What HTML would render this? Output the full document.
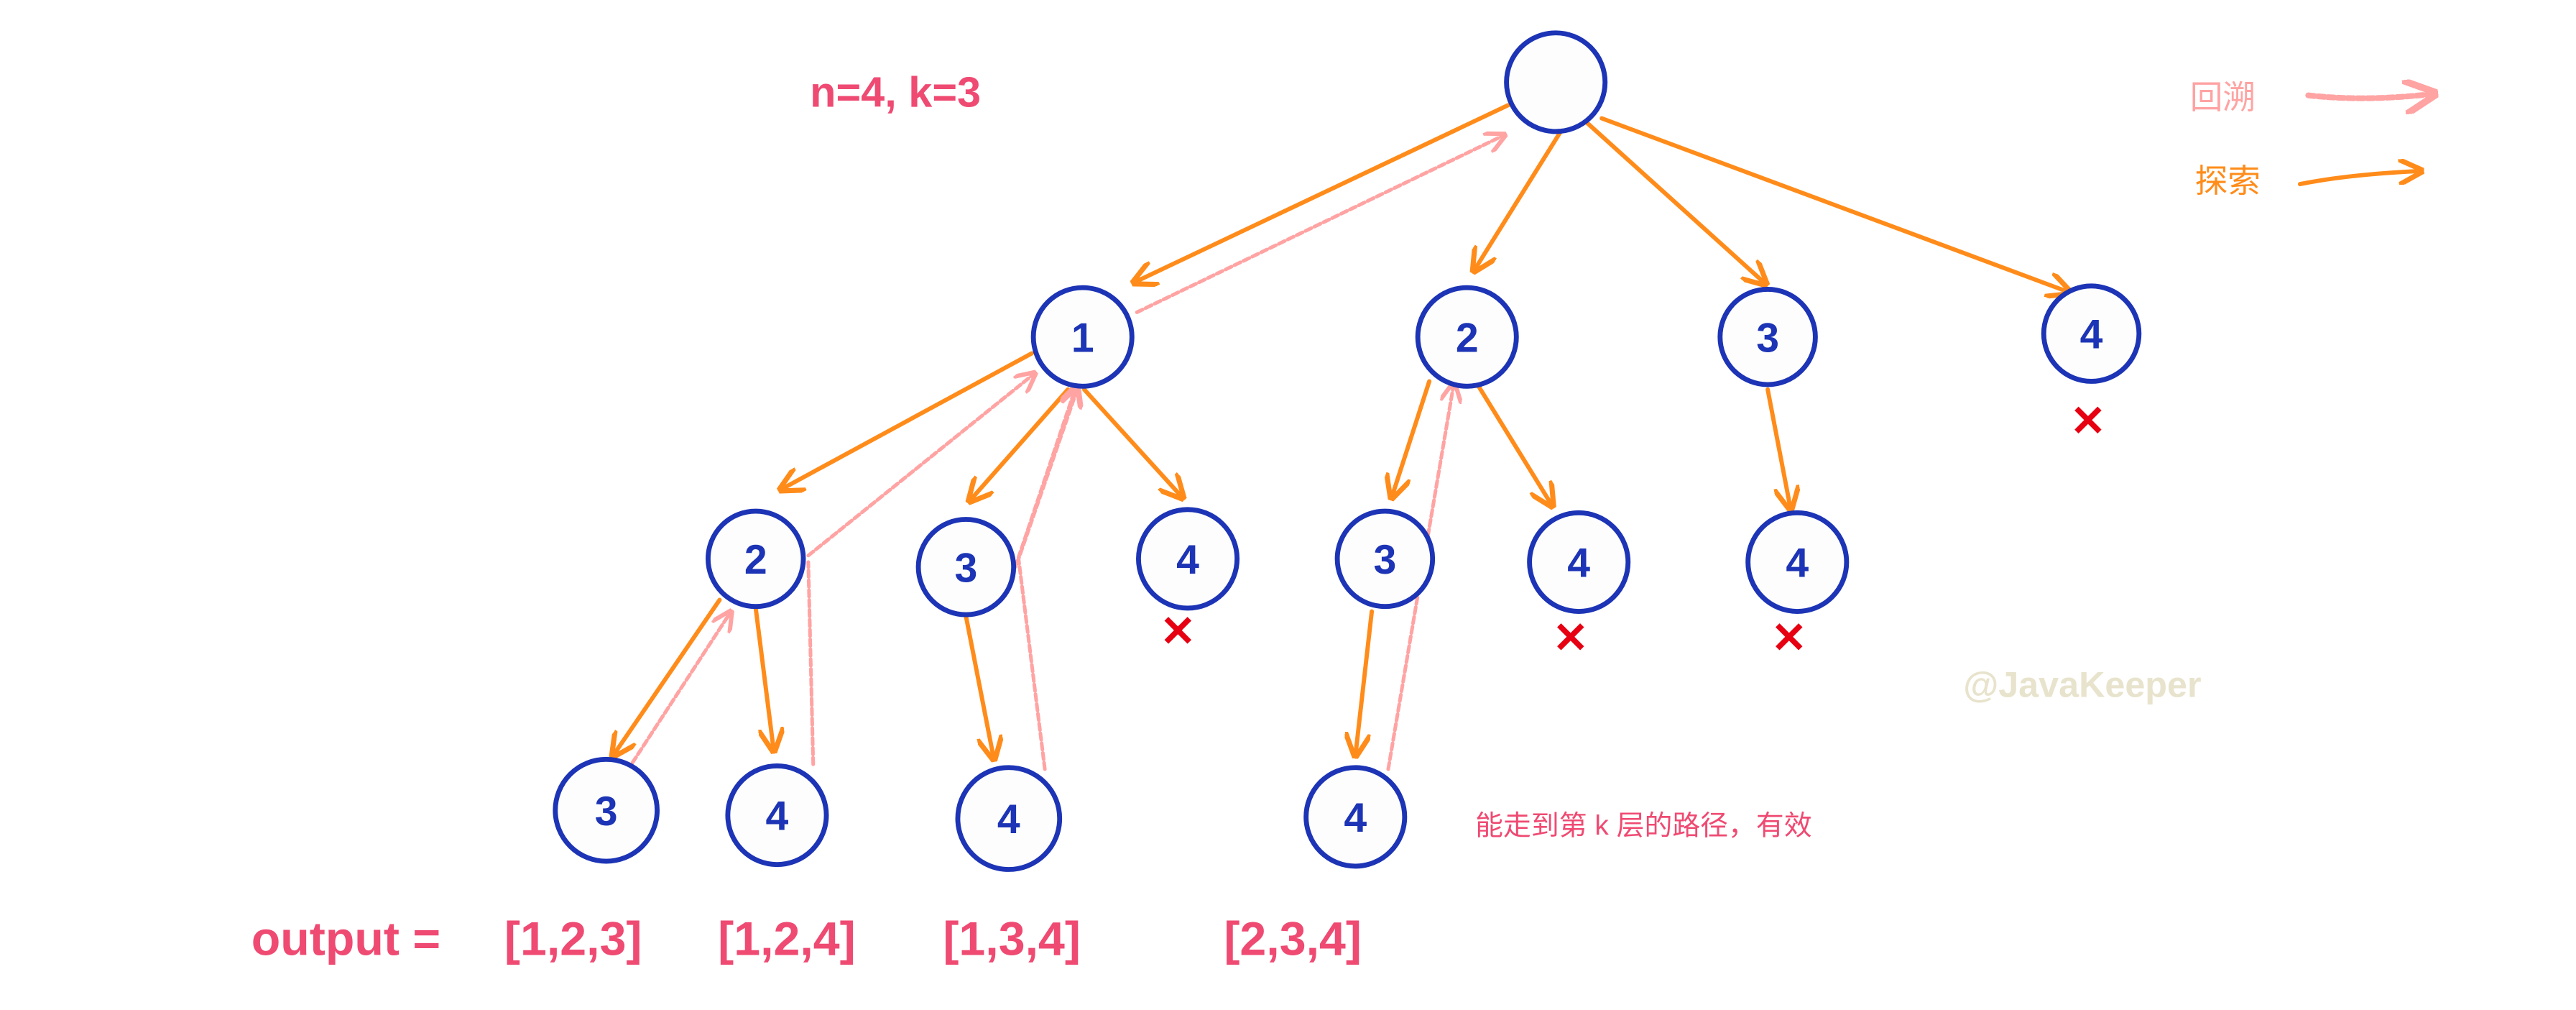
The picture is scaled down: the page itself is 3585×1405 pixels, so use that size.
<!DOCTYPE html>
<html><head><meta charset="utf-8"><style>
html,body{margin:0;padding:0;background:#fff;}
svg{display:block;}
text{font-family:"Liberation Sans","Noto Sans CJK SC",sans-serif;}
</style></head><body>
<svg width="3585" height="1405" viewBox="0 0 1568 614.5" xmlns="http://www.w3.org/2000/svg">
<defs>
<marker id="ao" viewBox="0 0 10 10" refX="9" refY="5" markerWidth="6" markerHeight="6" orient="auto"><path d="M0,0 L10,5 L0,10" fill="none" stroke="#ff8c1a" stroke-width="2"/></marker>
<marker id="ap" viewBox="0 0 10 10" refX="9" refY="5" markerWidth="6" markerHeight="6" orient="auto"><path d="M0,0 L10,5 L0,10" fill="none" stroke="#ffa3a3" stroke-width="2"/></marker>
</defs>
<g stroke="#ff8c1a" stroke-width="2.6" fill="none" marker-end="url(#ao)" stroke-linecap="round">
<line x1="918" y1="64" x2="690" y2="172"/>
<line x1="950" y1="80" x2="897" y2="165"/>
<line x1="963" y1="72" x2="1075" y2="173"/>
<line x1="975" y1="72" x2="1260" y2="178"/>
<line x1="628" y1="215" x2="475" y2="298"/>
<line x1="650" y1="237" x2="590" y2="305"/>
<line x1="660" y1="237" x2="720" y2="303"/>
<line x1="870" y1="232" x2="847" y2="303"/>
<line x1="900" y1="235" x2="945" y2="308"/>
<line x1="1076" y1="237" x2="1090" y2="310"/>
<line x1="438" y1="365" x2="373" y2="460"/>
<line x1="460" y1="370" x2="471" y2="457"/>
<line x1="588" y1="375" x2="605" y2="462"/>
<line x1="835" y1="372" x2="825" y2="460"/>
<path d="M1400,112 Q1430,106 1474,104"/>
</g>
<g stroke="#ffa3a3" stroke-width="2.2" fill="none" stroke-dasharray="4 2" stroke-linecap="round">
<line x1="692" y1="190" x2="916" y2="82" marker-end="url(#ap)"/>
<line x1="492" y1="338" x2="630" y2="227" marker-end="url(#ap)"/>
<line x1="618" y1="345" x2="655" y2="235" marker-end="url(#ap)"/>
<path d="M636,468 L620,340 L656,236" marker-end="url(#ap)"/>
<line x1="845" y1="468" x2="885" y2="233" marker-end="url(#ap)"/>
<line x1="385" y1="464" x2="445" y2="372" marker-end="url(#ap)"/>
<line x1="495" y1="465" x2="492" y2="342"/>
<path d="M1405,58 Q1440,62 1482,57" stroke-width="3.5" marker-end="url(#ap)"/>
</g>
<g stroke="#1c34b5" stroke-width="3" fill="#fdfdfd">
<circle cx="947" cy="50" r="30"/>
<circle cx="659" cy="205" r="30"/>
<circle cx="893" cy="205" r="30"/>
<circle cx="1076" cy="205" r="29"/>
<circle cx="1273" cy="203" r="29"/>
<circle cx="460" cy="340" r="29"/>
<circle cx="588" cy="345" r="29"/>
<circle cx="723" cy="340" r="30"/>
<circle cx="843" cy="340" r="29"/>
<circle cx="961" cy="342" r="30"/>
<circle cx="1094" cy="342" r="30"/>
<circle cx="369" cy="493" r="31"/>
<circle cx="473" cy="496" r="30"/>
<circle cx="614" cy="498" r="31"/>
<circle cx="825" cy="497" r="30"/>
</g>
<g fill="#1c34b5" font-size="25" font-weight="bold" text-anchor="middle">
<text x="659" y="214">1</text><text x="893" y="214">2</text><text x="1076" y="214">3</text><text x="1273" y="212">4</text>
<text x="460" y="349">2</text><text x="588" y="354">3</text><text x="723" y="349">4</text><text x="843" y="349">3</text><text x="961" y="351">4</text><text x="1094" y="351">4</text>
<text x="369" y="502">3</text><text x="473" y="505">4</text><text x="614" y="507">4</text><text x="825" y="506">4</text>
</g>
<g fill="#e60012" font-size="26" font-weight="bold" text-anchor="middle">
<text x="1271" y="265">✕</text><text x="717" y="393">✕</text><text x="956" y="397">✕</text><text x="1089" y="397">✕</text>
</g>
<text x="493" y="65" fill="#ef4a72" font-size="26" font-weight="bold">n=4, k=3</text>
<text x="1333" y="66" fill="#ffa3a3" font-size="20">回溯</text>
<text x="1336" y="117" fill="#ff8c1a" font-size="20">探索</text>
<text x="1195" y="424" fill="#e8e3cc" font-size="22" font-weight="bold">@JavaKeeper</text>
<text x="898" y="508" fill="#ef4a72" font-size="17">能走到第 k 层的路径，有效</text>
<g fill="#ef4a72" font-size="29" font-weight="bold">
<text x="153" y="581">output =</text>
<text x="307" y="581">[1,2,3]</text>
<text x="437" y="581">[1,2,4]</text>
<text x="574" y="581">[1,3,4]</text>
<text x="745" y="581">[2,3,4]</text>
</g>
</svg>
</body></html>
